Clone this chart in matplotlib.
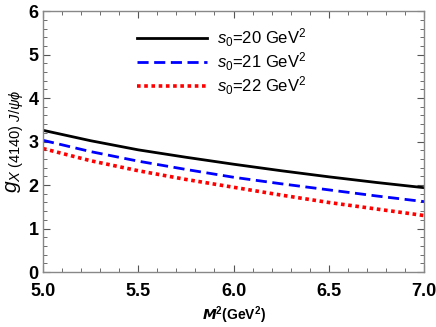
import matplotlib.pyplot as plt
from matplotlib.ticker import MultipleLocator

plt.rcParams['font.family'] = ['Liberation Sans', 'DejaVu Sans']
plt.rcParams['mathtext.fontset'] = 'custom'
plt.rcParams['mathtext.rm'] = 'Liberation Sans'
plt.rcParams['mathtext.it'] = 'Liberation Sans:italic'
plt.rcParams['mathtext.bf'] = 'Liberation Sans:bold'

M2 = [5.0, 5.25, 5.5, 5.75, 6.0, 6.25, 6.5, 6.75, 7.0]
g_s20 = [3.26, 3.02, 2.81, 2.64, 2.48, 2.33, 2.19, 2.06, 1.94]
g_s21 = [3.03, 2.77, 2.55, 2.36, 2.18, 2.03, 1.89, 1.75, 1.62]
g_s22 = [2.84, 2.56, 2.33, 2.13, 1.95, 1.77, 1.60, 1.45, 1.30]
labels = [r'$s_0$=20 GeV$^2$', r'$s_0$=21 GeV$^2$', r'$s_0$=22 GeV$^2$']

fig = plt.figure(figsize=(4.36, 3.27), dpi=100)
ax = fig.add_axes([0.0986, 0.168, 0.874, 0.798])

ax.plot(M2, g_s20, color='black', lw=2.0, label=labels[0])
ax.plot(M2, g_s21, color='blue', lw=2.0, ls=(0, (4, 2)), label=labels[1])
ax.plot(M2, g_s22, color='red', lw=2.6, ls=(0, (1, 1)), label=labels[2])

ax.set_xlim(5.0, 7.0)
ax.set_ylim(0, 6)
ax.xaxis.set_major_locator(MultipleLocator(0.5))
ax.xaxis.set_minor_locator(MultipleLocator(0.1))
ax.yaxis.set_major_locator(MultipleLocator(1))
ax.yaxis.set_minor_locator(MultipleLocator(0.2))
ax.xaxis.set_major_formatter(plt.FormatStrFormatter('%.1f'))
ax.tick_params(which='both', direction='in', top=True, right=True,
               labelsize=13, color='#555555')
ax.tick_params(axis='x', pad=8)
ax.tick_params(axis='y', pad=3)
ax.tick_params(which='major', length=5, width=0.8)
ax.tick_params(which='minor', length=3, width=0.6)
for lab in ax.get_xticklabels() + ax.get_yticklabels():
    lab.set_fontweight('bold')
for sp in ax.spines.values():
    sp.set_color('#888888')
    sp.set_linewidth(1.0)

ax.set_xlabel(r'$\mathbfit{M}^{\mathbf{2}}$(GeV$^{\mathbf{2}}$)', fontsize=10,
              fontweight='bold', labelpad=3)
ax.set_ylabel(r'$g_{X\ \mathrm{(4140)}\ J/\psi\phi}$', fontsize=15, labelpad=2)

ax.legend(loc='upper center', bbox_to_anchor=(0.47, 1.0), frameon=False,
          fontsize=12, handlelength=4.2, handletextpad=0.6, labelspacing=0.1)

fig.savefig('out.png', dpi=100)
